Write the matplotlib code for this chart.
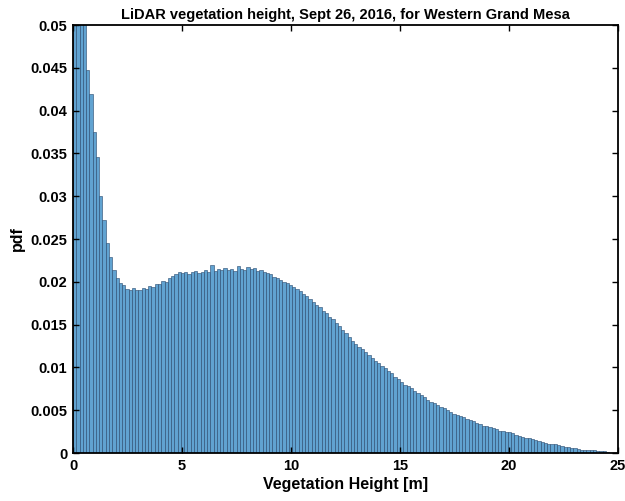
import numpy as np
import matplotlib
matplotlib.use("Agg")
import matplotlib.pyplot as plt

bin_width = 0.15
pdf_values = [
    0.30, 0.12, 0.075, 0.055, 0.0447, 0.0419, 0.0375, 0.0346, 0.0300, 0.0272,
    0.0245, 0.0229, 0.0214, 0.0204, 0.0199, 0.0196, 0.0192, 0.0191, 0.0193, 0.0190,
    0.0191, 0.0193, 0.0192, 0.0195, 0.0194, 0.0197, 0.0198, 0.0201, 0.0200, 0.0204,
    0.0207, 0.0209, 0.0211, 0.0210, 0.0212, 0.0209, 0.0211, 0.0213, 0.0210, 0.0212,
    0.0214, 0.0211, 0.0220, 0.0213, 0.0215, 0.0214, 0.0216, 0.0214, 0.0215, 0.0213,
    0.0218, 0.0215, 0.0214, 0.0217, 0.0215, 0.0216, 0.0213, 0.0214, 0.0211, 0.0210,
    0.0209, 0.0206, 0.0204, 0.0202, 0.0200, 0.0199, 0.0196, 0.0194, 0.0192, 0.0189,
    0.0186, 0.0183, 0.0180, 0.0177, 0.0173, 0.0170, 0.0166, 0.0163, 0.0159, 0.0156,
    0.0152, 0.0148, 0.0144, 0.0140, 0.0135, 0.0131, 0.0127, 0.0124, 0.0122, 0.0118,
    0.0114, 0.0111, 0.0108, 0.0105, 0.0102, 0.0099, 0.0096, 0.0093, 0.0089, 0.0086,
    0.0083, 0.0080, 0.0078, 0.0076, 0.0073, 0.0070, 0.0068, 0.0065, 0.0062, 0.0060,
    0.0058, 0.0056, 0.0054, 0.0052, 0.0050, 0.0048, 0.0046, 0.0044, 0.0043, 0.0042,
    0.0040, 0.0039, 0.0037, 0.0035, 0.0034, 0.0032, 0.0031, 0.0030, 0.0029, 0.0028,
    0.0026, 0.0026, 0.0025, 0.0025, 0.0023, 0.0021, 0.0020, 0.0019, 0.0018, 0.0017,
    0.0016, 0.0015, 0.0014, 0.0013, 0.0012, 0.0011, 0.0010, 0.0010, 0.0009, 0.0008,
    0.0007, 0.0007, 0.0006, 0.0006, 0.0005, 0.0004, 0.0004, 0.0003, 0.0003, 0.0003,
    0.0002, 0.0002, 0.0002, 0.0001,
]
x_ticks = [0, 5, 10, 15, 20, 25]
y_ticks = [0, 0.005, 0.01, 0.015, 0.02, 0.025, 0.03, 0.035, 0.04, 0.045, 0.05]
y_tick_labels = ["0", "0.005", "0.01", "0.015", "0.02", "0.025", "0.03", "0.035", "0.04", "0.045", "0.05"]

plt.rcParams['font.family'] = ['Liberation Sans', 'DejaVu Sans']
plt.rcParams['font.weight'] = 'bold'

fig = plt.figure(figsize=(6.25, 5.01), dpi=100)
ax = fig.add_axes([0.1168, 0.0958, 0.872, 0.8542])

edges = np.arange(len(pdf_values)) * bin_width
ax.bar(edges, pdf_values, width=bin_width, align='edge',
       color=(0.38, 0.64, 0.82), edgecolor=(0.15, 0.28, 0.42), linewidth=0.4)

ax.set_xlim(0, 25)
ax.set_ylim(0, 0.05)
ax.set_xticks(x_ticks)
ax.set_xticklabels([str(t) for t in x_ticks])
ax.set_yticks(y_ticks)
ax.set_yticklabels(y_tick_labels)
ax.tick_params(direction='in', top=True, right=True, length=4, width=1.0,
               labelsize=10.5, pad=4)
for lab in ax.get_xticklabels() + ax.get_yticklabels():
    lab.set_fontweight('bold')
for s in ax.spines.values():
    s.set_linewidth(1.3)

ax.set_xlabel('Vegetation Height [m]', fontsize=11.5, fontweight='bold', labelpad=3)
ax.set_ylabel('pdf', fontsize=11.5, fontweight='bold', labelpad=4)
ax.set_title('LiDAR vegetation height, Sept 26, 2016, for Western Grand Mesa',
             fontsize=10.5, fontweight='bold', pad=4)

fig.savefig('out.png', dpi=100)
